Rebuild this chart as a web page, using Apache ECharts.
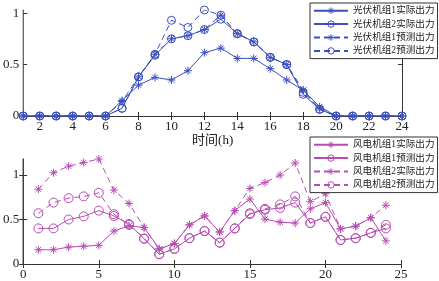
<!DOCTYPE html>
<html><head><meta charset="utf-8">
<script src="https://cdn.jsdelivr.net/npm/echarts@6/dist/echarts.min.js"></script>
<style>html,body{margin:0;padding:0;background:#fff}#c{width:439px;height:281px}</style>
</head><body><div id="c"></div>
<script>
const hours = [1,2,3,4,5,6,7,8,9,10,11,12,13,14,15,16,17,18,19,20,21,22,23,24];
const pvNames = ['光伏机组1实际出力','光伏机组2实际出力','光伏机组1预测出力','光伏机组2预测出力'];
const pv1Actual   = [0,0,0,0,0,0,0.15,0.30,0.375,0.35,0.44,0.615,0.66,0.56,0.56,0.46,0.35,0.25,0.09,0,0,0,0,0];
const pv2Actual   = [0,0,0,0,0,0,0.075,0.38,0.59,0.75,0.78,0.84,0.94,0.80,0.72,0.57,0.50,0.21,0.065,0,0,0,0,0];
const pv1Forecast = [0,0,0,0,0,0,0.14,0.38,0.60,0.75,0.78,0.84,0.98,0.80,0.72,0.57,0.50,0.25,0.07,0,0,0,0,0];
const pv2Forecast = [0,0,0,0,0,0,0.075,0.38,0.60,0.93,0.86,1.03,0.98,0.80,0.72,0.57,0.50,0.23,0.065,0,0,0,0,0];
const windNames = ['风电机组1实际出力','风电机组1预测出力','风电机组2实际出力','风电机组2预测出力'];
const wind1Actual   = [0.16,0.16,0.19,0.20,0.21,0.37,0.43,0.41,0.17,0.23,0.44,0.54,0.36,0.60,0.73,0.505,0.47,0.46,0.62,0.69,0.395,0.425,0.52,0.26];
const wind1Forecast = [0.40,0.40,0.50,0.535,0.60,0.54,0.45,0.285,0.11,0.17,0.29,0.37,0.24,0.40,0.56,0.61,0.63,0.69,0.46,0.53,0.27,0.29,0.35,0.40];
const wind2Actual   = [0.84,1.025,1.10,1.14,1.18,0.83,0.68,0.41,0.17,0.23,0.44,0.54,0.36,0.60,0.85,0.915,1.0,1.135,0.70,0.79,0.395,0.425,0.52,0.66];
const wind2Forecast = [0.57,0.69,0.74,0.76,0.80,0.56,0.44,0.285,0.11,0.17,0.29,0.37,0.24,0.40,0.57,0.62,0.67,0.76,0.46,0.53,0.27,0.29,0.35,0.44];
const topXTicks = [2,4,6,8,10,12,14,16,18,20,22,24];
const topYTicks = [0,0.5,1];
const botXTicks = [0,5,10,15,20,25];
const botYTicks = [0,0.5,1];
const xTitle = '时间(h)';

const BLUE = '#3b4fbf', MAG = '#b84cb4', TXT = '#222';
const FONT = '"Liberation Serif","Noto Sans CJK SC",serif';
const STAR = 'path://M5,0L5,10M0,5L10,5M1.6,1.6L8.4,8.4M8.4,1.6L1.6,8.4';
const CIRC = 'path://M10,5A5,5,0,1,1,0,5A5,5,0,1,1,10,5Z';

function pts(xs, ys){ return xs.map((x,i)=>[x, ys[i]]); }
function ser(name, data, color, sym, dashed, gi){
  const isStar = sym === 'star';
  return {
    name, type:'line', data, xAxisIndex: gi*2, yAxisIndex: gi*2,
    symbol: isStar ? STAR : CIRC,
    symbolSize: isStar ? 8 : (gi === 0 ? 8 : 9),
    showSymbol: true, animation:false,
    lineStyle:{color, width:1, type: dashed ? [6,4] : 'solid'},
    itemStyle:{color:'none', borderColor: color, borderWidth:1},
    emphasis:{disabled:true}
  };
}
const axLine = {show:true, lineStyle:{color:'#333', width:1}};
const tickIn = (vals)=>({show:true, inside:true, length:4, customValues: vals, lineStyle:{color:'#333'}});
function xAx(gi, min, max, vals, withTitle){
  return [{
    type:'value', gridIndex:gi, min, max, position:'bottom',
    axisLine: axLine, axisTick: tickIn(vals), splitLine:{show:false},
    axisLabel:{customValues: vals, color:TXT, fontFamily:FONT, fontSize:13, margin:4},
    name: withTitle ? xTitle : '', nameLocation:'middle', nameGap:17,
    nameTextStyle:{color:TXT, fontFamily:FONT, fontSize:13}
  },{
    type:'value', gridIndex:gi, min, max, position:'top',
    axisLine: axLine, axisTick: tickIn(vals), splitLine:{show:false}, axisLabel:{show:false}
  }];
}
function yAx(gi, max, vals){
  return [{
    type:'value', gridIndex:gi, min:0, max, position:'left',
    axisLine: axLine, axisTick: tickIn(vals), splitLine:{show:false},
    axisLabel:{customValues: vals, color:TXT, fontFamily:FONT, fontSize:13, margin:4}
  },{
    type:'value', gridIndex:gi, min:0, max, position:'right',
    axisLine: axLine, axisTick: tickIn(vals), splitLine:{show:false}, axisLabel:{show:false}
  }];
}
const legendCommon = {
  orient:'vertical', itemWidth:34, itemHeight:8, itemGap:2,
  padding:[2,3,2,3], borderColor:'#333', borderWidth:1, backgroundColor:'#fff',
  textStyle:{fontFamily:FONT, fontSize:9.6, color:TXT},
  itemStyle:{color:'none', borderWidth:1},
  selectedMode:false
};
const chart = echarts.init(document.getElementById('c'), null, {renderer:'canvas'});
chart.setOption({
  backgroundColor:'#fff',
  animation:false,
  grid:[
    {left:22, right:37, top:10, bottom:165},
    {left:23, right:38, top:159, bottom:15}
  ],
  xAxis:[...xAx(0,1,24,topXTicks,true), ...xAx(1,0,25,botXTicks,false)],
  yAxis:[...yAx(0,1.03,topYTicks), ...yAx(1,1.18,botYTicks)],
  legend:[
    Object.assign({}, legendCommon, {left:310, top:3, data: pvNames}),
    Object.assign({}, legendCommon, {left:310, top:137, data: windNames})
  ],
  series:[
    ser(pvNames[2], pts(hours,pv1Forecast), BLUE, 'star', true, 0),
    ser(pvNames[3], pts(hours,pv2Forecast), BLUE, 'circle', true, 0),
    ser(pvNames[0], pts(hours,pv1Actual), BLUE, 'star', false, 0),
    ser(pvNames[1], pts(hours,pv2Actual), BLUE, 'circle', false, 0),
    ser(windNames[2], pts(hours,wind2Actual), MAG, 'star', true, 1),
    ser(windNames[3], pts(hours,wind2Forecast), MAG, 'circle', true, 1),
    ser(windNames[0], pts(hours,wind1Actual), MAG, 'star', false, 1),
    ser(windNames[1], pts(hours,wind1Forecast), MAG, 'circle', false, 1)
  ]
});
</script></body></html>
